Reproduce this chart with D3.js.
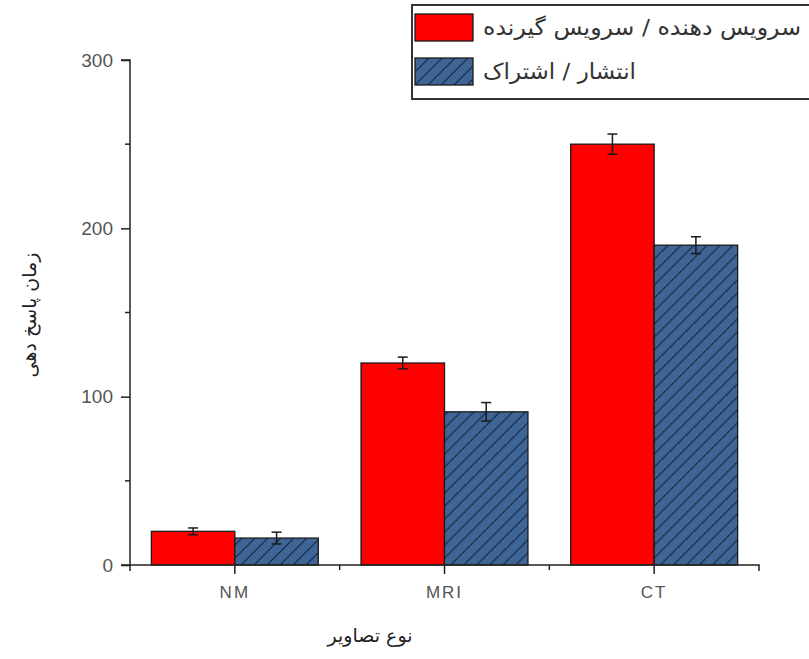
<!DOCTYPE html>
<html><head><meta charset="utf-8">
<script src="https://cdn.jsdelivr.net/npm/d3@7"></script>
<style>body{margin:0;background:#fff}svg{display:block}</style>
</head><body>
<script>
const categories = ["NM", "MRI", "CT"];
const seriesNames = ["سرویس دهنده / سرویس گیرنده", "انتشار / اشتراک"];
const serverValues = [20, 120, 250];
const serverErrors = [2, 3.5, 6];
const publishValues = [16, 91, 190];
const publishErrors = [3.5, 5.5, 5];
const yMajorTicks = [0, 100, 200, 300];
const yMinorTicks = [50, 150, 250];
const yTitle = "زمان پاسخ دهی";
const xTitle = "نوع تصاویر";

(function () {
const W = 809, H = 659;
const svg = d3.select("body").append("svg").attr("width", W).attr("height", H);

const defs = svg.append("defs");
const pat = defs.append("pattern").attr("id", "hatch").attr("patternUnits", "userSpaceOnUse")
  .attr("width", 13).attr("height", 13);
pat.append("rect").attr("width", 13).attr("height", 13).attr("fill", "#3f6597");
pat.append("path").attr("d", "M-1,14 L14,-1 M-7,7 L7,-7 M6,20 L20,6")
  .attr("stroke", "#14243d").attr("stroke-width", 1.1);

const pLeft = 130, pRight = 759, pTop = 60, pBottom = 565;
const x0 = d3.scaleBand().domain(categories).range([pLeft, pRight]).paddingInner(0).paddingOuter(0);
const x1 = d3.scaleBand().domain([0, 1]).range([0, x0.bandwidth()]).paddingInner(0).paddingOuter(0.256);
const y = d3.scaleLinear().domain([0, 300]).range([pBottom, pTop]);

const data = categories.map((c, i) => ({c, vals: [
  {s: 0, v: serverValues[i], e: serverErrors[i]},
  {s: 1, v: publishValues[i], e: publishErrors[i]}
]}));
const fills = ["#ff0000", "url(#hatch)"];

const g = svg.append("g");
const groups = g.selectAll("g.cat").data(data).join("g").attr("class", "cat").attr("transform", d => `translate(${x0(d.c)},0)`);
groups.selectAll("rect").data(d => d.vals).join("rect")
  .attr("x", d => x1(d.s)).attr("width", x1.bandwidth())
  .attr("y", d => y(d.v)).attr("height", d => y(0) - y(d.v))
  .attr("fill", d => fills[d.s]).attr("stroke", "#1a1a1a").attr("stroke-width", 1.3);
const eb = groups.selectAll("g.err").data(d => d.vals).join("g").attr("class", "err")
  .attr("stroke", "#1a1a1a").attr("stroke-width", 1.5);
eb.append("line").attr("x1", d => x1(d.s) + x1.bandwidth() / 2).attr("x2", d => x1(d.s) + x1.bandwidth() / 2)
  .attr("y1", d => y(d.v + d.e)).attr("y2", d => y(d.v - d.e));
[1, -1].forEach(sg => {
  eb.append("line").attr("x1", d => x1(d.s) + x1.bandwidth() / 2 - 5).attr("x2", d => x1(d.s) + x1.bandwidth() / 2 + 5)
    .attr("y1", d => y(d.v + sg * d.e)).attr("y2", d => y(d.v + sg * d.e));
});

const yAxis = svg.append("g").attr("transform", `translate(${pLeft},0)`)
  .call(d3.axisLeft(y).tickValues(yMajorTicks).tickSize(9).tickPadding(8).tickFormat(d3.format("d")));
yAxis.select(".domain").attr("d", `M-9,${pTop}H0V${pBottom + 6}`).attr("stroke", "#222").attr("stroke-width", 1.5);
yAxis.selectAll(".tick line").attr("stroke", "#222").attr("stroke-width", 1.5);
yAxis.selectAll(".tick text").attr("font-family", "Liberation Sans, Arial, sans-serif").attr("font-size", 19).attr("fill", "#555");
svg.append("g").attr("transform", `translate(${pLeft},0)`).selectAll("line").data(yMinorTicks).join("line")
  .attr("x1", -5).attr("x2", 0).attr("y1", d => y(d)).attr("y2", d => y(d)).attr("stroke", "#222").attr("stroke-width", 1.5);

const xAxis = svg.append("g").attr("transform", `translate(0,${pBottom})`)
  .call(d3.axisBottom(x0).tickSize(9).tickPadding(12));
xAxis.select(".domain").attr("d", `M${pLeft - 9},0H${pRight}V6`).attr("stroke", "#222").attr("stroke-width", 1.5);
xAxis.selectAll(".tick line").attr("stroke", "#222").attr("stroke-width", 1.5);
xAxis.selectAll(".tick text").attr("font-family", "Liberation Sans, Arial, sans-serif").attr("font-size", 17)
  .attr("fill", "#555").attr("letter-spacing", 2);
const bounds = categories.slice(1).map(c => x0(c));
svg.append("g").attr("transform", `translate(0,${pBottom})`).selectAll("line").data(bounds).join("line")
  .attr("x1", d => d).attr("x2", d => d).attr("y1", 0).attr("y2", 5).attr("stroke", "#222").attr("stroke-width", 1.5);

const faFont = "DejaVu Sans, Noto Sans, sans-serif";
svg.append("text").attr("transform", "translate(36,315) rotate(-90)").attr("text-anchor", "middle")
  .attr("font-family", faFont).attr("font-size", 19).attr("fill", "#222").text(yTitle);
svg.append("text").attr("x", 370).attr("y", 642).attr("text-anchor", "middle")
  .attr("font-family", faFont).attr("font-size", 19).attr("fill", "#222").text(xTitle);

const lg = svg.append("g");
lg.append("rect").attr("x", 412).attr("y", 5).attr("width", 420).attr("height", 94)
  .attr("fill", "#fff").attr("stroke", "#333").attr("stroke-width", 2);
const items = lg.selectAll("g.item").data(seriesNames).join("g").attr("class", "item").attr("transform", (d, i) => `translate(0,${14 + i * 44})`);
items.append("rect").attr("x", 415).attr("y", 0).attr("width", 58).attr("height", 27)
  .attr("fill", (d, i) => fills[i]).attr("stroke", "#1a1a1a").attr("stroke-width", 1.3);
const legendWidths = [318, 153];
items.append("text").attr("x", 483).attr("y", 21).attr("font-family", faFont).attr("font-size", 22)
  .attr("fill", "#333").attr("text-anchor", "start")
  .attr("textLength", (d, i) => legendWidths[i]).attr("lengthAdjust", "spacingAndGlyphs").text(d => d);
})();
</script>
</body></html>
